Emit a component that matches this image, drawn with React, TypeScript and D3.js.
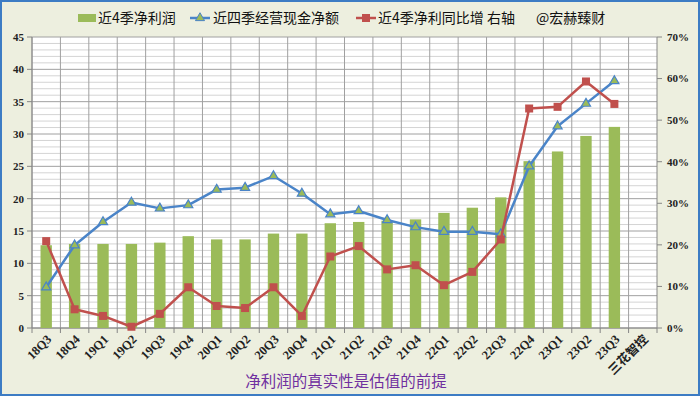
import React, { useRef, useEffect } from 'react';
import * as d3 from 'd3';

const quarters = ['18Q3', '18Q4', '19Q1', '19Q2', '19Q3', '19Q4', '20Q1', '20Q2', '20Q3', '20Q4', '21Q1', '21Q2', '21Q3', '21Q4', '22Q1', '22Q2', '22Q3', '22Q4', '23Q1', '23Q2', '23Q3', '三花智控'];
// 近4季净利润 (left axis)
const netProfit = [12.8, 13.0, 13.0, 13.0, 13.2, 14.2, 13.7, 13.7, 14.6, 14.6, 16.2, 16.4, 16.6, 16.8, 17.8, 18.6, 20.2, 25.8, 27.3, 29.7, 31.1];
// 近四季经营现金净额 (left axis)
const operatingCash = [6.3, 12.8, 16.4, 19.4, 18.5, 19.0, 21.4, 21.7, 23.5, 20.8, 17.6, 18.1, 16.7, 15.6, 14.9, 14.9, 14.5, 25.0, 31.2, 34.7, 38.2];
// 近4季净利同比增 (right axis, %)
const profitGrowth = [20.9, 4.5, 2.9, 0.3, 3.4, 9.8, 5.3, 4.8, 9.8, 2.9, 17.2, 19.7, 14.1, 15.1, 10.3, 13.5, 21.3, 52.8, 53.2, 59.3, 53.9];

const leftTicks = [0, 5, 10, 15, 20, 25, 30, 35, 40, 45];
const rightTicks = [0, 10, 20, 30, 40, 50, 60, 70];
const legendLabels = ['近4季净利润', '近四季经营现金净额', '近4季净利同比增 右轴', '@宏赫臻财'];
const title = '净利润的真实性是估值的前提';

const GREEN = '#9BBB59';
const BLUE = '#4A84C8';
const RED = '#C0504D';
const SERIF = "'Liberation Serif', 'Noto Sans CJK SC', serif";
const CJK = "'Noto Sans CJK SC', 'Liberation Serif', serif";

export default function App() {
  const ref = useRef<SVGSVGElement | null>(null);

  useEffect(() => {
    if (!ref.current) return;
    const svg = d3.select(ref.current);
    svg.selectAll('*').remove();

    const W = 700, H = 396;
    const left = 32, right = 657, top = 37, bottom = 328;

    svg.append('rect').attr('width', W).attr('height', H).attr('fill', '#EDEFDF');
    svg.append('rect').attr('x', 1).attr('y', 1).attr('width', W - 2).attr('height', H - 2)
      .attr('fill', 'none').attr('stroke', '#3D7CC4').attr('stroke-width', 2);

    const x = d3.scaleBand<string>().domain(quarters).range([left, right]).padding(0);
    const y = d3.scaleLinear().domain([0, 45]).range([bottom, top]);
    const y2 = d3.scaleLinear().domain([0, 70]).range([bottom, top]);

    const g = svg.append('g');
    g.append('rect').attr('x', left).attr('y', top).attr('width', right - left).attr('height', bottom - top).attr('fill', '#fff');

    // minor horizontal grid
    d3.range(0, 46, 1).filter(v => v % 5 !== 0).forEach(v => {
      g.append('line').attr('x1', left).attr('x2', right).attr('y1', y(v)).attr('y2', y(v))
        .attr('stroke', '#D4D4D4').attr('stroke-width', 1);
    });
    leftTicks.forEach(v => {
      g.append('line').attr('x1', left).attr('x2', right).attr('y1', y(v)).attr('y2', y(v))
        .attr('stroke', '#A0A0A0').attr('stroke-width', 1);
    });
    // vertical grid at category boundaries
    quarters.forEach(q => {
      const xx = x(q)!;
      g.append('line').attr('x1', xx).attr('x2', xx).attr('y1', top).attr('y2', bottom)
        .attr('stroke', '#A0A0A0').attr('stroke-width', 1);
    });

    // axes
    const axisColor = '#868686';
    g.append('line').attr('x1', left).attr('x2', left).attr('y1', top).attr('y2', bottom).attr('stroke', axisColor);
    g.append('line').attr('x1', right).attr('x2', right).attr('y1', top).attr('y2', bottom).attr('stroke', axisColor);
    g.append('line').attr('x1', left).attr('x2', right).attr('y1', bottom).attr('y2', bottom).attr('stroke', axisColor);

    leftTicks.forEach(v => {
      g.append('line').attr('x1', left - 5).attr('x2', left).attr('y1', y(v)).attr('y2', y(v)).attr('stroke', axisColor);
      g.append('text').attr('x', left - 8).attr('y', y(v)).attr('dy', '0.35em').attr('text-anchor', 'end')
        .attr('font-family', SERIF).attr('font-weight', 'bold').attr('font-size', 11).attr('fill', '#222').text(v);
    });
    rightTicks.forEach(v => {
      g.append('line').attr('x1', right).attr('x2', right + 5).attr('y1', y2(v)).attr('y2', y2(v)).attr('stroke', axisColor);
      g.append('text').attr('x', right + 10).attr('y', y2(v)).attr('dy', '0.35em').attr('text-anchor', 'start')
        .attr('font-family', SERIF).attr('font-weight', 'bold').attr('font-size', 11).attr('fill', '#222').text(`${v}%`);
    });
    [...quarters.map(q => x(q)!), right].forEach(xx => {
      g.append('line').attr('x1', xx).attr('x2', xx).attr('y1', bottom).attr('y2', bottom + 5).attr('stroke', axisColor);
    });
    quarters.forEach(q => {
      const cx = x(q)! + x.bandwidth() / 2;
      const cjk = q.length > 4;
      g.append('text').attr('transform', `translate(${cx + (cjk ? 4 : 3)},${bottom + 9}) rotate(-45)`)
        .attr('text-anchor', 'end').attr('dy', '0.35em')
        .attr('font-family', cjk ? CJK : SERIF).attr('font-weight', cjk ? 'normal' : 'bold')
        .attr('font-size', cjk ? 13 : 12.5).attr('fill', '#222').text(q);
    });

    // bars
    const bw = x.bandwidth() * 0.4;
    netProfit.forEach((v, i) => {
      const cx = x(quarters[i])! + x.bandwidth() / 2;
      g.append('rect').attr('x', cx - bw / 2).attr('y', y(v)).attr('width', bw).attr('height', bottom - y(v)).attr('fill', GREEN);
    });

    const cxOf = (i: number) => x(quarters[i])! + x.bandwidth() / 2;

    // blue line
    g.append('path').datum(operatingCash)
      .attr('fill', 'none').attr('stroke', BLUE).attr('stroke-width', 2.5).attr('stroke-linejoin', 'round')
      .attr('d', d3.line<number>().x((_, i) => cxOf(i)).y(d => y(d)));
    const tri = d3.symbol().type(d3.symbolTriangle).size(36);
    operatingCash.forEach((v, i) => {
      g.append('path').attr('d', tri()!).attr('transform', `translate(${cxOf(i)},${y(v)})`)
        .attr('fill', GREEN).attr('stroke', BLUE).attr('stroke-width', 1.2);
    });

    // red line
    g.append('path').datum(profitGrowth)
      .attr('fill', 'none').attr('stroke', RED).attr('stroke-width', 2.5).attr('stroke-linejoin', 'round')
      .attr('d', d3.line<number>().x((_, i) => cxOf(i)).y(d => y2(d)));
    profitGrowth.forEach((v, i) => {
      g.append('rect').attr('x', cxOf(i) - 4).attr('y', y2(v) - 4).attr('width', 8).attr('height', 8).attr('fill', RED);
    });

    // legend
    const ly = 18;
    const lg = svg.append('g').attr('font-family', CJK).attr('font-size', 14).attr('fill', '#111');
    lg.append('rect').attr('x', 78).attr('y', ly - 4).attr('width', 18).attr('height', 8).attr('fill', GREEN);
    lg.append('text').attr('x', 98).attr('y', ly).attr('dy', '0.36em').text(legendLabels[0]);
    lg.append('line').attr('x1', 190).attr('x2', 210).attr('y1', ly).attr('y2', ly).attr('stroke', BLUE).attr('stroke-width', 2.5);
    lg.append('path').attr('d', tri()!).attr('transform', `translate(200,${ly})`).attr('fill', GREEN).attr('stroke', BLUE);
    lg.append('text').attr('x', 213).attr('y', ly).attr('dy', '0.36em').text(legendLabels[1]);
    lg.append('line').attr('x1', 356).attr('x2', 376).attr('y1', ly).attr('y2', ly).attr('stroke', RED).attr('stroke-width', 2.5);
    lg.append('rect').attr('x', 362).attr('y', ly - 4).attr('width', 8).attr('height', 8).attr('fill', RED);
    lg.append('text').attr('x', 378).attr('y', ly).attr('dy', '0.36em').text(legendLabels[2]);
    lg.append('text').attr('x', 536).attr('y', ly).attr('dy', '0.36em').text(legendLabels[3]);

    // title
    svg.append('text').attr('x', 346).attr('y', 381).attr('dy', '0.36em').attr('text-anchor', 'middle')
      .attr('font-family', CJK).attr('font-size', 15.5).attr('fill', '#7030A0').text(title);
  }, []);

  return (
    <svg ref={ref} width={700} height={396} style={{ position: 'absolute', left: 0, top: 0, display: 'block' }} />
  );
}
